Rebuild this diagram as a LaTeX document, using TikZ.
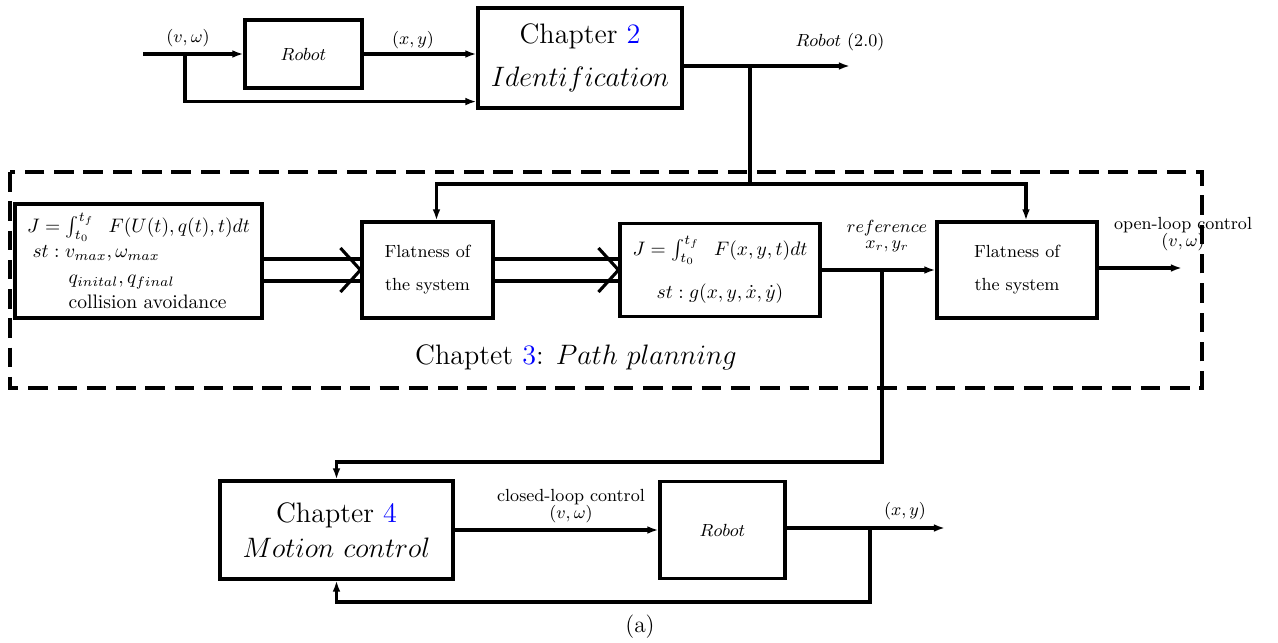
\documentclass[tikz,border=0pt]{standalone}
\usepackage{amsmath,amssymb}
\usepackage{tikz}
\usetikzlibrary{arrows.meta,calc}
\usepackage{xcolor}

\begin{document}
\begin{tikzpicture}[x=0.018cm,y=-0.018cm,line width=1.6pt,>={Latex[length=2mm,width=1.4mm]}]
        \tikzstyle{block}=[draw,rectangle,text centered,inner sep=2pt]
        \tikzstyle{lbl}=[font=\small,align=center,inner sep=1pt]
        \useasboundingbox (0,0) rectangle (1278,642);

        % identification row
        \node[block,minimum width=2.106cm,minimum height=1.224cm,font=\small] (robA) at (303.5,54) {$Robot$};
        \node[block,minimum width=3.672cm,minimum height=1.8cm,font=\Large,align=center] (chapA) at (580,58) {Chapter \textcolor{blue}{2}\\[4pt] $Identification$};
        \coordinate (inA) at (143,54);
        \coordinate (tapA) at (185,54);
        \coordinate (outA) at (850,66);
        \coordinate (splitA) at (750,66);
        \coordinate (busA) at (750,184);

        \draw[->] (inA) -- (robA.west);
        \draw[->] (tapA) |- ($(chapA.south west)+(0,-8)$);
        \draw[->] (robA.east) -- (robA.east -| chapA.west);
        \draw[->] (chapA.east |- outA) -- (outA);
        \node[lbl] (uA) at (188,38) {$(v,\omega)$};
        \node[lbl] (xyA) at (413,40) {$(x,y)$};
        \node[lbl] (robver) at (840,42) {$Robot$ (2.0)};

        % path planning
        \draw[dash pattern=on 10pt off 5pt] (10,172) rectangle (1202,388);
        \node[block,minimum width=4.446cm,minimum height=2.052cm,align=left] (costA) at (138.5,261) {
            $J=\int_{t_0}^{t_f}\;\;F(U(t),q(t),t)dt$\\[1pt]
            \hspace{1mm}$st:v_{max},\omega_{max}$\\[1pt]
            \hspace{7.5mm}$q_{inital},q_{final}$\\[1pt]
            \hspace{7.5mm}collision avoidance};
        \node[block,minimum width=2.358cm,minimum height=1.728cm,font=\small,align=center] (flatA) at (427.5,270) {Flatness of\\[6pt] the system};
        \node[block,minimum width=3.6cm,minimum height=1.674cm,align=center] (costB) at (720,270) {$J=\int_{t_0}^{t_f}\;\;F(x,y,t)dt$\\[9pt] $st:g(x,y,\dot{x},\dot{y})$};
        \node[block,minimum width=2.88cm,minimum height=1.728cm,font=\small,align=center] (flatB) at (1017,270) {Flatness of\\[6pt] the system};
        \coordinate (outB) at (1182,268);
        \coordinate (tapR) at (882,270);
        \coordinate (dropR) at (336.5,462);

        \draw (splitA) -- (busA);
        \draw[->] (busA) -| ($(flatA.north)+(9,0)$);
        \draw[->] (busA) -| ($(flatB.north)+(9,0)$);
        % double arrows
        \foreach \s/\t in {costA/flatA,flatA/costB}{
            \draw ($(\s.east |- \t.west)+(0,-11)$) -- ($(\t.west)+(0,-11)$);
            \draw ($(\s.east |- \t.west)+(0,11)$) -- ($(\t.west)+(0,11)$);
            \draw ($(\t.west)+(-20,-22)$) -- (\t.west) -- ($(\t.west)+(-20,22)$);
        }
        \draw[->] (costB.east) -- (flatB.west);
        \draw[->] (flatB.east |- outB) -- (outB);
        \node[lbl] (refR) at (887,236) {$reference$\\[-3pt] $x_r,y_r$};
        \node[lbl] (uB) at (1183,234) {open-loop control\\[-2pt] $(v,\omega)$};
        \node[font=\Large] (plan) at (576,357) {Chaptet \textcolor{blue}{3}: $Path\ planning$};

        % motion control row
        \node[block,minimum width=4.194cm,minimum height=1.764cm,font=\Large,align=center] (chapB) at (336.5,530) {Chapter \textcolor{blue}{4}\\ $Motion\ control$};
        \node[block,minimum width=2.25cm,minimum height=1.746cm,font=\small] (robB) at (722.5,530) {$Robot$};
        \coordinate (outC) at (945,528);
        \coordinate (tapB) at (870,528);
        \coordinate (loopB) at (336.5,602);

        \draw[->] (tapR) |- (dropR) -- (chapB.north);
        \draw[->] (chapB.east) -- (robB.west);
        \draw[->] (robB.east |- outC) -- (outC);
        \draw[->] (tapB) |- (loopB) -- (chapB.south);
        \node[lbl] (uC) at (571,506) {closed-loop control\\[-2pt] $(v,\omega)$};
        \node[lbl] (xyC) at (905,511) {$(x,y)$};
        \node[font=\large] (cap) at (640,627) {(a)};
\end{tikzpicture}
\end{document}
